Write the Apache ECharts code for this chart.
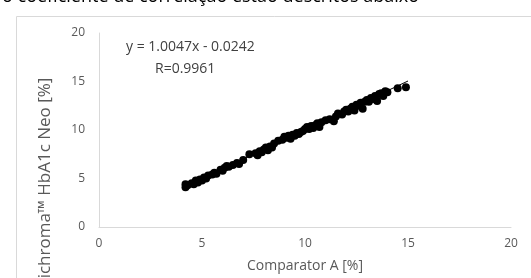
<!DOCTYPE html>
<html lang="pt">
<head>
    <meta charset="UTF-8">
    <title>Correlação ichroma HbA1c Neo</title>
    <script src="https://cdn.jsdelivr.net/npm/echarts/dist/echarts.min.js"></script>
    <style>
        html, body { margin: 0; padding: 0; background: #fff; }
        #chart-container { width: 531px; height: 278px; }
    </style>
</head>
<body>
    <div id="chart-container"></div>
    <script>
        // Comparator A [%] vs ichroma HbA1c Neo [%]
        var compX = [4.2, 4.2, 4.3, 4.5, 4.6, 4.7, 4.8, 4.9, 5.0, 5.1, 5.2, 5.3, 5.5, 5.6, 5.7, 5.9, 6.0, 6.1, 6.2, 6.3,
            6.5, 6.7, 6.8, 7.0, 7.3, 7.6, 7.7, 7.8, 7.9, 8.0, 8.1, 8.2, 8.3, 8.4, 8.5, 8.7, 8.9, 9.0, 9.1, 9.2,
            9.3, 9.4, 9.5, 9.6, 9.7, 9.8, 9.9, 10.0, 10.1, 10.2, 10.3, 10.4, 10.5, 10.6, 10.7, 10.8, 11.0, 11.2, 11.4, 11.5,
            11.6, 11.8, 11.9, 12.0, 12.1, 12.2, 12.3, 12.4, 12.5, 12.6, 12.7, 12.8, 12.9, 13.0, 13.1, 13.2, 13.3, 13.4, 13.5, 13.6,
            13.7, 13.8, 13.9, 14.0, 14.5, 14.9];
        var neoY = [4.1, 4.4, 4.3, 4.5, 4.4, 4.8, 4.6, 4.9, 4.8, 5.1, 5.0, 5.3, 5.4, 5.6, 5.5, 5.9, 5.8, 6.1, 6.3, 6.2,
            6.4, 6.6, 6.5, 6.9, 7.5, 7.6, 7.4, 7.8, 7.7, 8.0, 8.2, 7.9, 8.3, 8.2, 8.6, 8.9, 9.0, 9.3, 9.2, 9.4,
            9.1, 9.5, 9.4, 9.7, 9.6, 9.8, 9.9, 10.1, 10.3, 10.1, 10.4, 10.2, 10.5, 10.7, 10.3, 10.8, 11.0, 11.1, 10.9, 11.4,
            11.7, 11.6, 11.9, 12.1, 11.9, 12.2, 12.4, 12.0, 12.6, 12.5, 12.8, 12.2, 12.9, 13.1, 12.9, 13.3, 13.2, 13.5, 13.0, 13.7,
            13.8, 13.5, 14.0, 13.9, 14.3, 14.4];
        // trendline end points
        var trendX = [4.2, 15.0];
        var trendY = [4.2, 15.05];
        var ticks = [0, 5, 10, 15, 20];

        var font = '"Open Sans", "Noto Sans", sans-serif';
        var chart = echarts.init(document.getElementById('chart-container'));
        var option = {
            animation: false,
            grid: { left: 99, right: 20, top: 33, bottom: 50 },
            graphic: [
                {
                    type: 'rect', left: 14, top: 14,
                    shape: { width: 600, height: 300 },
                    style: { fill: 'none', stroke: '#d9d9d9', lineWidth: 1 }
                },
                {
                    type: 'text', left: 2, top: -12,
                    style: { text: 'o coeficiente de correlação estão descritos abaixo', font: '18px ' + font, fill: '#000' }
                },
                {
                    type: 'text', left: 126, top: 40,
                    style: { text: 'y = 1.0047x - 0.0242', font: '14px ' + font, fill: '#404040' }
                },
                {
                    type: 'text', left: 155, top: 62,
                    style: { text: 'R=0.9961', font: '14px ' + font, fill: '#404040' }
                },
                {
                    type: 'text', x: 45, y: 178, rotation: Math.PI / 2,
                    style: { text: 'ichroma™ HbA1c Neo [%]', font: '17px ' + font, fill: '#595959', align: 'center', verticalAlign: 'middle' }
                }
            ],
            xAxis: {
                type: 'value', min: 0, max: 20, interval: 5,
                name: 'Comparator A [%]', nameLocation: 'middle', nameGap: 32,
                nameTextStyle: { color: '#595959', fontSize: 14, fontFamily: font },
                axisLine: { lineStyle: { color: '#d9d9d9' } },
                axisTick: { show: false },
                splitLine: { show: false },
                axisLabel: { color: '#595959', fontSize: 12, fontFamily: font, margin: 11,
                    formatter: function (v) { return ticks.indexOf(v) >= 0 ? String(v) : ''; } }
            },
            yAxis: {
                type: 'value', min: 0, max: 20, interval: 5,
                axisLine: { show: true, lineStyle: { color: '#d9d9d9' } },
                axisTick: { show: false },
                splitLine: { show: false },
                axisLabel: { color: '#595959', fontSize: 12, fontFamily: font, margin: 14 }
            },
            series: [
                {
                    type: 'scatter',
                    symbolSize: 8,
                    itemStyle: { color: '#000', opacity: 1 },
                    data: compX.map(function (x, i) { return [x, neoY[i]]; }),
                    z: 3
                },
                {
                    type: 'line',
                    showSymbol: false,
                    lineStyle: { color: '#000', width: 1 },
                    data: trendX.map(function (x, i) { return [x, trendY[i]]; }),
                    z: 4
                }
            ]
        };
        chart.setOption(option);
    </script>
</body>
</html>
